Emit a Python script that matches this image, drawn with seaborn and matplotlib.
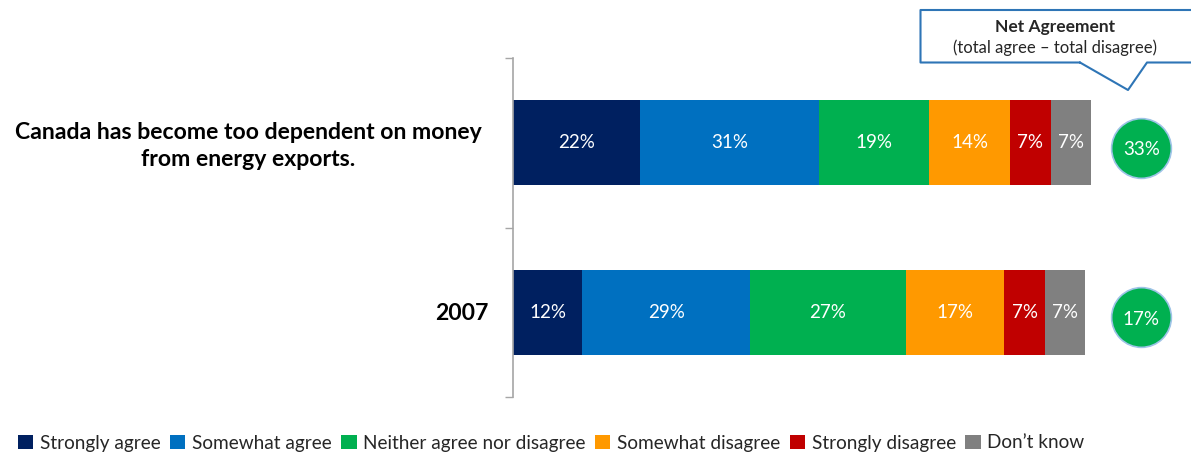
import matplotlib
matplotlib.use("Agg")
import matplotlib.pyplot as plt
from matplotlib.patches import Patch
from matplotlib.lines import Line2D
import numpy as np
import pandas as pd
import seaborn as sns

# Survey responses (percent)
rows = ["Canada has become too dependent on money\nfrom energy exports.", "2007"]
categories = ["Strongly agree", "Somewhat agree", "Neither agree nor disagree",
              "Somewhat disagree", "Strongly disagree", "Don\u2019t know"]
strongly_agree = [22, 12]
somewhat_agree = [31, 29]
neither = [19, 27]
somewhat_disagree = [14, 17]
strongly_disagree = [7, 7]
dont_know = [7, 7]
net_agreement = [33, 17]

colors = ["#002060", "#0070C0", "#00B050", "#FF9900", "#C00000", "#808080"]

sns.set_theme(style="white")
plt.rcParams["font.family"] = ["Lato", "DejaVu Sans"]

series = [strongly_agree, somewhat_agree, neither,
          somewhat_disagree, strongly_disagree, dont_know]
vals = np.array(series, dtype=float)          # shape (6, 2)
cum = np.cumsum(vals, axis=0)

W, H = 1191, 454
fig = plt.figure(figsize=(W / 100, H / 100), dpi=100)
ax = fig.add_axes([513 / W, 1 - 397 / H, (1091 - 513) / W, (397 - 58) / H])


def fx(px):
    return px / W


def fy(py):
    return 1 - py / H


# Stacked bars: draw cumulative totals from the widest down so each segment shows
for i in range(len(categories) - 1, -1, -1):
    df = pd.DataFrame({"row": rows, "value": cum[i]})
    sns.barplot(data=df, x="value", y="row", color=colors[i], width=0.5,
                saturation=1, orient="h", ax=ax, linewidth=0)

# Segment labels
for j in range(len(rows)):
    left = 0
    for i in range(len(categories)):
        v = vals[i, j]
        ax.text(left + v / 2, j, f"{v:.0f}%", ha="center", va="center",
                color="white", fontsize=13.5)
        left += v

ax.set_xlim(0, 100)
ax.set_ylim(1.5, -0.5)
ax.set_xlabel("")
ax.set_ylabel("")
ax.set_xticks([])
ax.set_yticks([-0.5, 0.5, 1.5])
ax.set_yticklabels([])
ax.tick_params(axis="y", direction="out", length=6, width=1, color="#A6A6A6", left=True)
for s in ["top", "right", "bottom"]:
    ax.spines[s].set_visible(False)
ax.spines["left"].set_color("#A6A6A6")
ax.spines["left"].set_linewidth(1.2)

# Row labels
ax.text(fx(248), fy(146), rows[0], ha="center", va="center",
        fontsize=16.6, fontweight="bold", color="black",
        transform=fig.transFigure, multialignment="center", linespacing=1.35)
ax.text(-4.3, 1.01, rows[1], ha="right", va="center",
        fontsize=16.6, fontweight="bold", color="black")

# Net agreement circles
cx = 108.7
ax.scatter([cx] * len(rows), np.arange(len(rows)) + 0.03, s=1850, color="#00B050",
           edgecolors="#9DC3E6", linewidths=1.2, clip_on=False, zorder=5)
for j, n in enumerate(net_agreement):
    ax.text(cx, j + 0.04, f"{n}%", ha="center", va="center", color="white",
            fontsize=13.5, zorder=6, clip_on=False)

# Callout box for the net agreement column
box_x = [1080, 920.5, 920.5, 1195, 1195, 1147, 1128, 1080]
box_y = [62.5, 62.5, 10, 10, 62.5, 62.5, 90, 62.5]
fig.add_artist(Line2D([fx(x) for x in box_x], [fy(y) for y in box_y],
                      color="#2E75B6", linewidth=1.5, transform=fig.transFigure))
fig.text(fx(1055), fy(27), "Net Agreement", ha="center", va="center",
         fontsize=12.5, fontweight="bold")
fig.text(fx(1055), fy(48), "(total agree \u2013 total disagree)", ha="center",
         va="center", fontsize=12)

handles = [Patch(facecolor=c, edgecolor="none") for c in colors]
fig.legend(handles, categories, loc="center left", bbox_to_anchor=(fx(18), fy(443)),
           ncol=6, frameon=False, fontsize=13.7, handlelength=0.8, handleheight=0.8,
           handletextpad=0.35, columnspacing=0.5, borderpad=0, borderaxespad=0)

fig.savefig("out.png", dpi=100)
